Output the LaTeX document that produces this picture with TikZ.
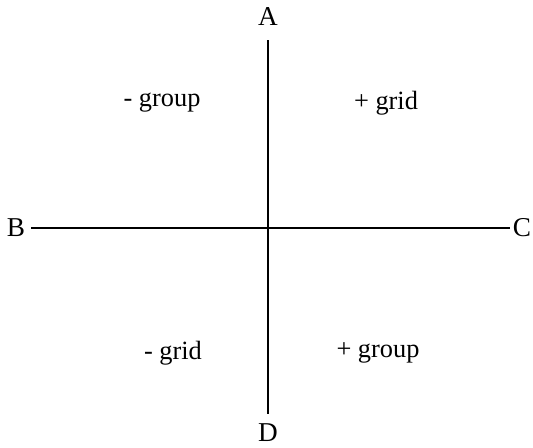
\documentclass[tikz,border=0pt]{standalone}
\usepackage{fontspec}
\setmainfont{Liberation Serif}
\usetikzlibrary{positioning}

\begin{document}
\begin{tikzpicture}[x=0.02cm,y=-0.02cm,
  quadlabel/.style={font=\fontsize{15}{18}\selectfont,inner sep=0pt},
  axisend/.style={font=\fontsize{15.5}{18}\selectfont,inner sep=0pt},
  axisline/.style={line width=1.1pt}
]
  \useasboundingbox (0,0) rectangle (533,447);
  % axis ends
  \node[axisend] (A) at (268,17) {A};
  \node[axisend] (D) at (268,433) {D};
  \node[axisend] (B) at (16,228) {B};
  \node[axisend] (C) at (522,228) {C};
  % axes
  \draw[axisline,shorten <=0.28cm,shorten >=0.2cm] (A.south) -- (D.north);
  \draw[axisline,shorten <=0.12cm,shorten >=0.06cm] (B.east) -- (C.west);
  % quadrants
  \node[quadlabel] (tl) at (162,103) {- group};
  \node[quadlabel] (tr) at (386,103) {+ grid};
  \node[quadlabel] (bl) at (173,353) {- grid};
  \node[quadlabel] (br) at (378,353) {+ group};
\end{tikzpicture}
\end{document}
